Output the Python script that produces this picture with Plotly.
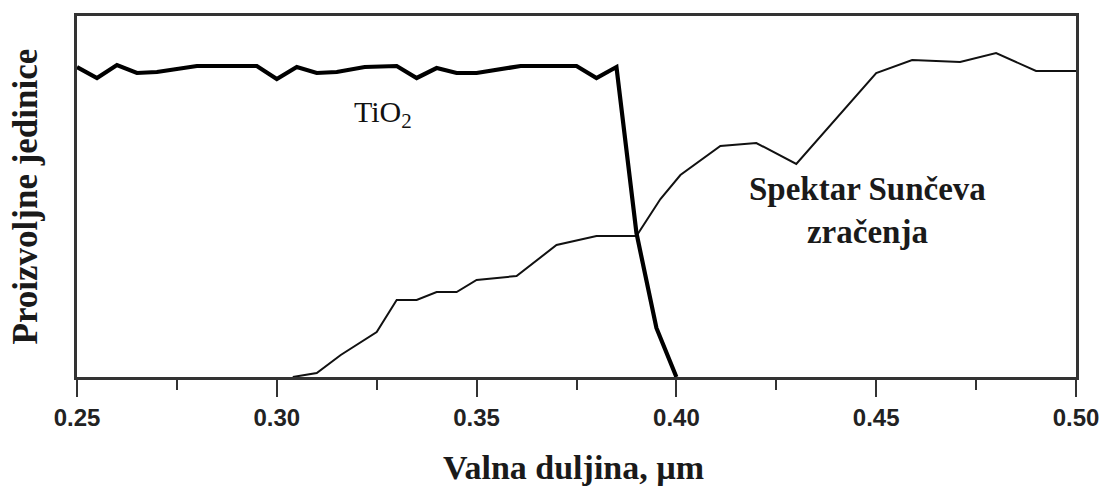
import plotly.graph_objects as go

# TiO2 absorption (arbitrary units)
tio2_wl = [0.250, 0.255, 0.260, 0.265, 0.270, 0.280, 0.295, 0.300, 0.305, 0.310,
           0.315, 0.322, 0.330, 0.335, 0.340, 0.345, 0.350, 0.355, 0.361, 0.375,
           0.380, 0.385, 0.390, 0.395, 0.400]
tio2_val = [310, 299, 312, 304, 305, 311, 311, 298, 310, 304,
            305, 310, 311, 299, 309, 304, 304, 307, 311, 311,
            299, 310, 144, 49, 0]

# Solar spectrum (arbitrary units)
sun_wl = [0.304, 0.310, 0.316, 0.325, 0.330, 0.335, 0.340, 0.345, 0.350, 0.360,
          0.370, 0.380, 0.390, 0.396, 0.401, 0.411, 0.420, 0.430, 0.450, 0.459,
          0.471, 0.480, 0.490, 0.500]
sun_val = [0, 4, 22, 45, 77, 77, 85, 85, 97, 101,
           132, 141, 141, 178, 202, 231, 234, 213, 304, 317,
           315, 324, 306, 306]

x_ticks = [0.25, 0.30, 0.35, 0.40, 0.45, 0.50]
x_ticklabels = ["0.25", "0.30", "0.35", "0.40", "0.45", "0.50"]

serif = "Liberation Serif, Times New Roman, serif"
sans = "Liberation Sans, Arial, sans-serif"
ink = "#1a1a1a"

fig = go.Figure()
fig.add_trace(go.Scatter(x=sun_wl, y=sun_val, mode="lines",
                         line=dict(color="#111111", width=2), showlegend=False))
fig.add_trace(go.Scatter(x=tio2_wl, y=tio2_val, mode="lines",
                         line=dict(color="#000000", width=4.2), showlegend=False))

fig.update_layout(
    width=1111, height=490,
    margin=dict(l=77, r=30, t=16, b=113),
    paper_bgcolor="white", plot_bgcolor="white",
    xaxis=dict(range=[0.25, 0.50], tickvals=x_ticks, ticktext=x_ticklabels,
               ticks="outside", ticklen=17, tickwidth=2, tickcolor="#333333",
               showline=True, linewidth=2.5, linecolor="#333333", mirror=True,
               showgrid=False, zeroline=False,
               tickfont=dict(family=sans, size=24, color="#222222", weight="bold"),
               ticklabelstandoff=0,
               minor=dict(dtick=0.025, tick0=0.25, ticks="outside", ticklen=10,
                          tickwidth=2, tickcolor="#333333", showgrid=False)),
    yaxis=dict(range=[0, 361], showticklabels=False, ticks="",
               showline=True, linewidth=2.5, linecolor="#333333", mirror=True,
               showgrid=False, zeroline=False),
    annotations=[
        dict(text="Proizvoljne jedinice", xref="paper", yref="paper",
             x=0, y=0.5, xshift=-52, xanchor="center", yanchor="middle",
             textangle=-90, showarrow=False,
             font=dict(family=serif, size=35, color=ink, weight="bold")),
        dict(text="Valna duljina, µm", xref="paper", yref="paper",
             x=0.497, y=0, yshift=-90, xanchor="center", yanchor="middle",
             showarrow=False,
             font=dict(family=serif, size=34, color=ink, weight="bold")),
        dict(text="TiO<sub>2</sub>", xref="x", yref="y",
             x=0.3187, y=263, xanchor="left", yanchor="middle",
             showarrow=False,
             font=dict(family=serif, size=30, color="#111111")),
        dict(text="Spektar Sunčeva<br>zračenja", xref="x", yref="y",
             x=0.4477, y=167, xanchor="center", yanchor="middle",
             showarrow=False, align="center",
             font=dict(family=serif, size=33, color=ink, weight="bold")),
    ],
)

fig.write_html("out.html")
